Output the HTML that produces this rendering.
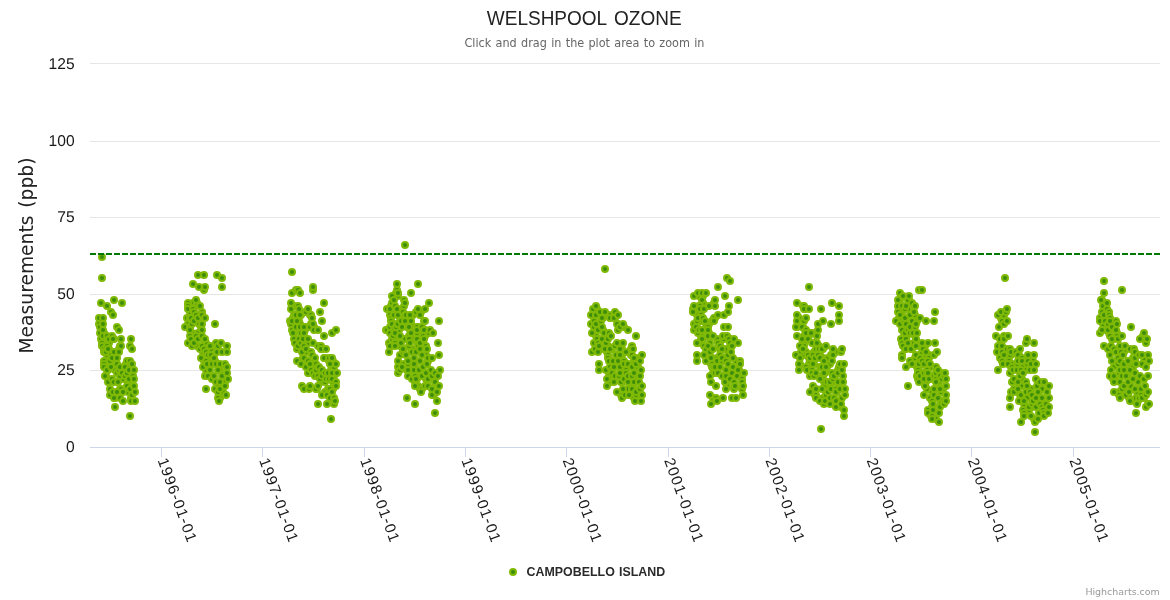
<!DOCTYPE html>
<html lang="en"><head><meta charset="utf-8"><title>Welshpool Ozone</title>
<style>
html,body{margin:0;padding:0;background:#fff;}
body{width:1170px;height:600px;overflow:hidden;}
svg{display:block;font-family:"DejaVu Sans", "Liberation Sans", sans-serif;}
.g line{stroke:#e6e6e6;stroke-width:1;shape-rendering:crispEdges;}
.ax line{stroke:#ccd6eb;stroke-width:1;shape-rendering:crispEdges;}
.yl text{font-family:'Liberation Sans', 'DejaVu Sans', sans-serif;font-size:15.6px;fill:#1a1a1a;text-anchor:end;text-rendering:geometricPrecision;}
.xl text{font-family:'Liberation Sans', 'DejaVu Sans', sans-serif;font-size:15.2px;fill:#1a1a1a;}
.p circle{fill:#3c8d0b;stroke:#80b906;stroke-width:2;}
</style></head><body>
<svg width="1170" height="600" viewBox="0 0 1170 600">
<rect x="0" y="0" width="1170" height="600" fill="#ffffff"/>
<g class="g">
<line x1="90" x2="1160" y1="63.5" y2="63.5"/>
<line x1="90" x2="1160" y1="141.5" y2="141.5"/>
<line x1="90" x2="1160" y1="217.5" y2="217.5"/>
<line x1="90" x2="1160" y1="294.5" y2="294.5"/>
<line x1="90" x2="1160" y1="370.5" y2="370.5"/>
</g>
<g class="ax">
<line x1="90" x2="1160" y1="447.5" y2="447.5"/>
<line x1="161.5" x2="161.5" y1="447" y2="457"/>
<line x1="262.5" x2="262.5" y1="447" y2="457"/>
<line x1="364.5" x2="364.5" y1="447" y2="457"/>
<line x1="465.5" x2="465.5" y1="447" y2="457"/>
<line x1="566.5" x2="566.5" y1="447" y2="457"/>
<line x1="668.5" x2="668.5" y1="447" y2="457"/>
<line x1="769.5" x2="769.5" y1="447" y2="457"/>
<line x1="870.5" x2="870.5" y1="447" y2="457"/>
<line x1="971.5" x2="971.5" y1="447" y2="457"/>
<line x1="1073.5" x2="1073.5" y1="447" y2="457"/>
</g>
<g class="p">
<circle cx="104" cy="333" r="3"/>
<circle cx="106" cy="376" r="3"/>
<circle cx="107" cy="355" r="3"/>
<circle cx="108" cy="370" r="3"/>
<circle cx="109" cy="343" r="3"/>
<circle cx="109" cy="349" r="3"/>
<circle cx="114" cy="339" r="3"/>
<circle cx="115" cy="370" r="3"/>
<circle cx="115" cy="398" r="3"/>
<circle cx="117" cy="373" r="3"/>
<circle cx="119" cy="349" r="3"/>
<circle cx="120" cy="346" r="3"/>
<circle cx="120" cy="389" r="3"/>
<circle cx="121" cy="389" r="3"/>
<circle cx="123" cy="379" r="3"/>
<circle cx="126" cy="364" r="3"/>
<circle cx="128" cy="382" r="3"/>
<circle cx="128" cy="392" r="3"/>
<circle cx="131" cy="398" r="3"/>
<circle cx="188" cy="324" r="3"/>
<circle cx="190" cy="312" r="3"/>
<circle cx="192" cy="333" r="3"/>
<circle cx="193" cy="303" r="3"/>
<circle cx="196" cy="306" r="3"/>
<circle cx="197" cy="303" r="3"/>
<circle cx="197" cy="346" r="3"/>
<circle cx="198" cy="333" r="3"/>
<circle cx="199" cy="324" r="3"/>
<circle cx="201" cy="327" r="3"/>
<circle cx="203" cy="352" r="3"/>
<circle cx="204" cy="361" r="3"/>
<circle cx="205" cy="343" r="3"/>
<circle cx="206" cy="343" r="3"/>
<circle cx="206" cy="370" r="3"/>
<circle cx="211" cy="349" r="3"/>
<circle cx="215" cy="361" r="3"/>
<circle cx="220" cy="370" r="3"/>
<circle cx="220" cy="398" r="3"/>
<circle cx="223" cy="392" r="3"/>
<circle cx="225" cy="382" r="3"/>
<circle cx="293" cy="318" r="3"/>
<circle cx="294" cy="306" r="3"/>
<circle cx="294" cy="333" r="3"/>
<circle cx="299" cy="321" r="3"/>
<circle cx="300" cy="324" r="3"/>
<circle cx="301" cy="315" r="3"/>
<circle cx="301" cy="333" r="3"/>
<circle cx="302" cy="312" r="3"/>
<circle cx="303" cy="358" r="3"/>
<circle cx="305" cy="330" r="3"/>
<circle cx="306" cy="327" r="3"/>
<circle cx="306" cy="352" r="3"/>
<circle cx="308" cy="343" r="3"/>
<circle cx="309" cy="373" r="3"/>
<circle cx="310" cy="315" r="3"/>
<circle cx="311" cy="324" r="3"/>
<circle cx="314" cy="327" r="3"/>
<circle cx="317" cy="389" r="3"/>
<circle cx="321" cy="382" r="3"/>
<circle cx="322" cy="349" r="3"/>
<circle cx="325" cy="358" r="3"/>
<circle cx="325" cy="382" r="3"/>
<circle cx="325" cy="392" r="3"/>
<circle cx="328" cy="389" r="3"/>
<circle cx="329" cy="361" r="3"/>
<circle cx="331" cy="370" r="3"/>
<circle cx="332" cy="367" r="3"/>
<circle cx="333" cy="361" r="3"/>
<circle cx="333" cy="382" r="3"/>
<circle cx="333" cy="389" r="3"/>
<circle cx="334" cy="367" r="3"/>
<circle cx="334" cy="376" r="3"/>
<circle cx="391" cy="306" r="3"/>
<circle cx="391" cy="346" r="3"/>
<circle cx="396" cy="293" r="3"/>
<circle cx="397" cy="336" r="3"/>
<circle cx="398" cy="296" r="3"/>
<circle cx="398" cy="309" r="3"/>
<circle cx="399" cy="330" r="3"/>
<circle cx="400" cy="318" r="3"/>
<circle cx="400" cy="346" r="3"/>
<circle cx="404" cy="364" r="3"/>
<circle cx="405" cy="339" r="3"/>
<circle cx="407" cy="327" r="3"/>
<circle cx="407" cy="370" r="3"/>
<circle cx="408" cy="364" r="3"/>
<circle cx="409" cy="336" r="3"/>
<circle cx="410" cy="330" r="3"/>
<circle cx="410" cy="370" r="3"/>
<circle cx="411" cy="324" r="3"/>
<circle cx="411" cy="349" r="3"/>
<circle cx="412" cy="349" r="3"/>
<circle cx="413" cy="315" r="3"/>
<circle cx="413" cy="339" r="3"/>
<circle cx="414" cy="358" r="3"/>
<circle cx="415" cy="364" r="3"/>
<circle cx="415" cy="382" r="3"/>
<circle cx="417" cy="333" r="3"/>
<circle cx="417" cy="379" r="3"/>
<circle cx="418" cy="327" r="3"/>
<circle cx="418" cy="343" r="3"/>
<circle cx="418" cy="346" r="3"/>
<circle cx="418" cy="386" r="3"/>
<circle cx="420" cy="389" r="3"/>
<circle cx="421" cy="312" r="3"/>
<circle cx="422" cy="389" r="3"/>
<circle cx="424" cy="321" r="3"/>
<circle cx="425" cy="330" r="3"/>
<circle cx="425" cy="336" r="3"/>
<circle cx="426" cy="355" r="3"/>
<circle cx="426" cy="379" r="3"/>
<circle cx="428" cy="361" r="3"/>
<circle cx="429" cy="379" r="3"/>
<circle cx="434" cy="395" r="3"/>
<circle cx="596" cy="336" r="3"/>
<circle cx="597" cy="309" r="3"/>
<circle cx="601" cy="349" r="3"/>
<circle cx="603" cy="318" r="3"/>
<circle cx="603" cy="330" r="3"/>
<circle cx="607" cy="352" r="3"/>
<circle cx="608" cy="346" r="3"/>
<circle cx="609" cy="315" r="3"/>
<circle cx="609" cy="376" r="3"/>
<circle cx="610" cy="382" r="3"/>
<circle cx="612" cy="349" r="3"/>
<circle cx="615" cy="318" r="3"/>
<circle cx="615" cy="367" r="3"/>
<circle cx="618" cy="324" r="3"/>
<circle cx="621" cy="395" r="3"/>
<circle cx="622" cy="349" r="3"/>
<circle cx="622" cy="355" r="3"/>
<circle cx="622" cy="382" r="3"/>
<circle cx="624" cy="327" r="3"/>
<circle cx="626" cy="370" r="3"/>
<circle cx="628" cy="389" r="3"/>
<circle cx="631" cy="349" r="3"/>
<circle cx="631" cy="355" r="3"/>
<circle cx="633" cy="386" r="3"/>
<circle cx="634" cy="361" r="3"/>
<circle cx="634" cy="376" r="3"/>
<circle cx="634" cy="398" r="3"/>
<circle cx="636" cy="358" r="3"/>
<circle cx="636" cy="395" r="3"/>
<circle cx="638" cy="367" r="3"/>
<circle cx="697" cy="315" r="3"/>
<circle cx="697" cy="324" r="3"/>
<circle cx="698" cy="343" r="3"/>
<circle cx="699" cy="296" r="3"/>
<circle cx="699" cy="306" r="3"/>
<circle cx="701" cy="312" r="3"/>
<circle cx="701" cy="321" r="3"/>
<circle cx="701" cy="333" r="3"/>
<circle cx="701" cy="339" r="3"/>
<circle cx="703" cy="296" r="3"/>
<circle cx="703" cy="303" r="3"/>
<circle cx="703" cy="339" r="3"/>
<circle cx="706" cy="324" r="3"/>
<circle cx="709" cy="324" r="3"/>
<circle cx="709" cy="333" r="3"/>
<circle cx="710" cy="343" r="3"/>
<circle cx="711" cy="364" r="3"/>
<circle cx="712" cy="321" r="3"/>
<circle cx="712" cy="358" r="3"/>
<circle cx="713" cy="373" r="3"/>
<circle cx="713" cy="398" r="3"/>
<circle cx="714" cy="303" r="3"/>
<circle cx="715" cy="318" r="3"/>
<circle cx="717" cy="339" r="3"/>
<circle cx="717" cy="358" r="3"/>
<circle cx="717" cy="361" r="3"/>
<circle cx="720" cy="343" r="3"/>
<circle cx="720" cy="349" r="3"/>
<circle cx="722" cy="361" r="3"/>
<circle cx="724" cy="339" r="3"/>
<circle cx="725" cy="349" r="3"/>
<circle cx="727" cy="386" r="3"/>
<circle cx="730" cy="339" r="3"/>
<circle cx="736" cy="361" r="3"/>
<circle cx="739" cy="370" r="3"/>
<circle cx="797" cy="327" r="3"/>
<circle cx="799" cy="318" r="3"/>
<circle cx="800" cy="364" r="3"/>
<circle cx="801" cy="352" r="3"/>
<circle cx="803" cy="306" r="3"/>
<circle cx="803" cy="327" r="3"/>
<circle cx="804" cy="336" r="3"/>
<circle cx="804" cy="343" r="3"/>
<circle cx="804" cy="346" r="3"/>
<circle cx="804" cy="355" r="3"/>
<circle cx="805" cy="309" r="3"/>
<circle cx="805" cy="330" r="3"/>
<circle cx="806" cy="352" r="3"/>
<circle cx="809" cy="336" r="3"/>
<circle cx="809" cy="358" r="3"/>
<circle cx="809" cy="364" r="3"/>
<circle cx="810" cy="361" r="3"/>
<circle cx="812" cy="333" r="3"/>
<circle cx="814" cy="352" r="3"/>
<circle cx="814" cy="364" r="3"/>
<circle cx="815" cy="343" r="3"/>
<circle cx="815" cy="395" r="3"/>
<circle cx="816" cy="349" r="3"/>
<circle cx="816" cy="358" r="3"/>
<circle cx="819" cy="346" r="3"/>
<circle cx="820" cy="355" r="3"/>
<circle cx="823" cy="349" r="3"/>
<circle cx="823" cy="358" r="3"/>
<circle cx="823" cy="376" r="3"/>
<circle cx="823" cy="398" r="3"/>
<circle cx="824" cy="382" r="3"/>
<circle cx="825" cy="373" r="3"/>
<circle cx="825" cy="386" r="3"/>
<circle cx="827" cy="367" r="3"/>
<circle cx="828" cy="358" r="3"/>
<circle cx="830" cy="364" r="3"/>
<circle cx="830" cy="386" r="3"/>
<circle cx="831" cy="355" r="3"/>
<circle cx="832" cy="382" r="3"/>
<circle cx="833" cy="376" r="3"/>
<circle cx="835" cy="376" r="3"/>
<circle cx="836" cy="352" r="3"/>
<circle cx="837" cy="392" r="3"/>
<circle cx="838" cy="370" r="3"/>
<circle cx="839" cy="367" r="3"/>
<circle cx="841" cy="407" r="3"/>
<circle cx="899" cy="318" r="3"/>
<circle cx="900" cy="300" r="3"/>
<circle cx="902" cy="312" r="3"/>
<circle cx="904" cy="333" r="3"/>
<circle cx="905" cy="349" r="3"/>
<circle cx="907" cy="336" r="3"/>
<circle cx="908" cy="309" r="3"/>
<circle cx="909" cy="300" r="3"/>
<circle cx="912" cy="349" r="3"/>
<circle cx="914" cy="343" r="3"/>
<circle cx="915" cy="315" r="3"/>
<circle cx="915" cy="336" r="3"/>
<circle cx="915" cy="358" r="3"/>
<circle cx="917" cy="321" r="3"/>
<circle cx="917" cy="367" r="3"/>
<circle cx="919" cy="367" r="3"/>
<circle cx="920" cy="346" r="3"/>
<circle cx="922" cy="352" r="3"/>
<circle cx="925" cy="346" r="3"/>
<circle cx="926" cy="355" r="3"/>
<circle cx="926" cy="382" r="3"/>
<circle cx="927" cy="389" r="3"/>
<circle cx="929" cy="355" r="3"/>
<circle cx="929" cy="358" r="3"/>
<circle cx="930" cy="379" r="3"/>
<circle cx="931" cy="367" r="3"/>
<circle cx="931" cy="416" r="3"/>
<circle cx="932" cy="407" r="3"/>
<circle cx="936" cy="419" r="3"/>
<circle cx="939" cy="382" r="3"/>
<circle cx="941" cy="373" r="3"/>
<circle cx="941" cy="392" r="3"/>
<circle cx="941" cy="401" r="3"/>
<circle cx="941" cy="404" r="3"/>
<circle cx="943" cy="389" r="3"/>
<circle cx="1001" cy="318" r="3"/>
<circle cx="1004" cy="315" r="3"/>
<circle cx="1009" cy="361" r="3"/>
<circle cx="1011" cy="355" r="3"/>
<circle cx="1011" cy="367" r="3"/>
<circle cx="1012" cy="364" r="3"/>
<circle cx="1014" cy="389" r="3"/>
<circle cx="1017" cy="364" r="3"/>
<circle cx="1019" cy="355" r="3"/>
<circle cx="1020" cy="395" r="3"/>
<circle cx="1021" cy="386" r="3"/>
<circle cx="1022" cy="379" r="3"/>
<circle cx="1023" cy="367" r="3"/>
<circle cx="1024" cy="404" r="3"/>
<circle cx="1026" cy="370" r="3"/>
<circle cx="1027" cy="398" r="3"/>
<circle cx="1029" cy="410" r="3"/>
<circle cx="1031" cy="389" r="3"/>
<circle cx="1032" cy="407" r="3"/>
<circle cx="1033" cy="361" r="3"/>
<circle cx="1034" cy="419" r="3"/>
<circle cx="1039" cy="392" r="3"/>
<circle cx="1042" cy="389" r="3"/>
<circle cx="1102" cy="300" r="3"/>
<circle cx="1103" cy="324" r="3"/>
<circle cx="1103" cy="330" r="3"/>
<circle cx="1109" cy="333" r="3"/>
<circle cx="1113" cy="379" r="3"/>
<circle cx="1114" cy="339" r="3"/>
<circle cx="1114" cy="367" r="3"/>
<circle cx="1115" cy="376" r="3"/>
<circle cx="1117" cy="333" r="3"/>
<circle cx="1119" cy="392" r="3"/>
<circle cx="1119" cy="395" r="3"/>
<circle cx="1124" cy="352" r="3"/>
<circle cx="1128" cy="373" r="3"/>
<circle cx="1129" cy="398" r="3"/>
<circle cx="1131" cy="367" r="3"/>
<circle cx="1131" cy="386" r="3"/>
<circle cx="1131" cy="401" r="3"/>
<circle cx="1133" cy="358" r="3"/>
<circle cx="1133" cy="367" r="3"/>
<circle cx="1134" cy="352" r="3"/>
<circle cx="1135" cy="361" r="3"/>
<circle cx="1137" cy="392" r="3"/>
<circle cx="1138" cy="382" r="3"/>
<circle cx="1138" cy="401" r="3"/>
<circle cx="1141" cy="389" r="3"/>
<circle cx="1143" cy="336" r="3"/>
<circle cx="1144" cy="358" r="3"/>
<circle cx="1144" cy="398" r="3"/>
<circle cx="1148" cy="404" r="3"/>
<circle cx="99" cy="318" r="3"/>
<circle cx="99" cy="324" r="3"/>
<circle cx="100" cy="327" r="3"/>
<circle cx="100" cy="333" r="3"/>
<circle cx="101" cy="303" r="3"/>
<circle cx="101" cy="339" r="3"/>
<circle cx="102" cy="257" r="3"/>
<circle cx="102" cy="278" r="3"/>
<circle cx="102" cy="343" r="3"/>
<circle cx="102" cy="346" r="3"/>
<circle cx="103" cy="318" r="3"/>
<circle cx="103" cy="324" r="3"/>
<circle cx="103" cy="330" r="3"/>
<circle cx="103" cy="336" r="3"/>
<circle cx="104" cy="349" r="3"/>
<circle cx="104" cy="352" r="3"/>
<circle cx="104" cy="361" r="3"/>
<circle cx="104" cy="364" r="3"/>
<circle cx="104" cy="367" r="3"/>
<circle cx="105" cy="376" r="3"/>
<circle cx="106" cy="352" r="3"/>
<circle cx="107" cy="306" r="3"/>
<circle cx="107" cy="336" r="3"/>
<circle cx="107" cy="346" r="3"/>
<circle cx="107" cy="370" r="3"/>
<circle cx="108" cy="349" r="3"/>
<circle cx="108" cy="382" r="3"/>
<circle cx="109" cy="339" r="3"/>
<circle cx="110" cy="361" r="3"/>
<circle cx="110" cy="389" r="3"/>
<circle cx="110" cy="395" r="3"/>
<circle cx="111" cy="312" r="3"/>
<circle cx="111" cy="355" r="3"/>
<circle cx="111" cy="367" r="3"/>
<circle cx="112" cy="336" r="3"/>
<circle cx="112" cy="358" r="3"/>
<circle cx="112" cy="379" r="3"/>
<circle cx="113" cy="315" r="3"/>
<circle cx="113" cy="339" r="3"/>
<circle cx="113" cy="392" r="3"/>
<circle cx="114" cy="300" r="3"/>
<circle cx="114" cy="352" r="3"/>
<circle cx="114" cy="382" r="3"/>
<circle cx="114" cy="398" r="3"/>
<circle cx="115" cy="407" r="3"/>
<circle cx="117" cy="327" r="3"/>
<circle cx="117" cy="358" r="3"/>
<circle cx="117" cy="364" r="3"/>
<circle cx="117" cy="392" r="3"/>
<circle cx="118" cy="382" r="3"/>
<circle cx="119" cy="330" r="3"/>
<circle cx="119" cy="352" r="3"/>
<circle cx="119" cy="370" r="3"/>
<circle cx="120" cy="367" r="3"/>
<circle cx="120" cy="376" r="3"/>
<circle cx="120" cy="398" r="3"/>
<circle cx="121" cy="339" r="3"/>
<circle cx="121" cy="346" r="3"/>
<circle cx="122" cy="303" r="3"/>
<circle cx="122" cy="373" r="3"/>
<circle cx="123" cy="392" r="3"/>
<circle cx="123" cy="401" r="3"/>
<circle cx="125" cy="367" r="3"/>
<circle cx="125" cy="376" r="3"/>
<circle cx="127" cy="361" r="3"/>
<circle cx="127" cy="373" r="3"/>
<circle cx="127" cy="386" r="3"/>
<circle cx="129" cy="370" r="3"/>
<circle cx="129" cy="379" r="3"/>
<circle cx="130" cy="346" r="3"/>
<circle cx="130" cy="361" r="3"/>
<circle cx="130" cy="389" r="3"/>
<circle cx="130" cy="416" r="3"/>
<circle cx="131" cy="339" r="3"/>
<circle cx="131" cy="401" r="3"/>
<circle cx="132" cy="349" r="3"/>
<circle cx="132" cy="364" r="3"/>
<circle cx="132" cy="395" r="3"/>
<circle cx="133" cy="376" r="3"/>
<circle cx="134" cy="370" r="3"/>
<circle cx="134" cy="379" r="3"/>
<circle cx="134" cy="386" r="3"/>
<circle cx="135" cy="392" r="3"/>
<circle cx="135" cy="401" r="3"/>
<circle cx="185" cy="327" r="3"/>
<circle cx="187" cy="318" r="3"/>
<circle cx="188" cy="303" r="3"/>
<circle cx="188" cy="306" r="3"/>
<circle cx="188" cy="309" r="3"/>
<circle cx="188" cy="343" r="3"/>
<circle cx="190" cy="318" r="3"/>
<circle cx="190" cy="327" r="3"/>
<circle cx="190" cy="330" r="3"/>
<circle cx="190" cy="336" r="3"/>
<circle cx="191" cy="318" r="3"/>
<circle cx="191" cy="339" r="3"/>
<circle cx="192" cy="324" r="3"/>
<circle cx="192" cy="346" r="3"/>
<circle cx="193" cy="284" r="3"/>
<circle cx="193" cy="309" r="3"/>
<circle cx="194" cy="312" r="3"/>
<circle cx="194" cy="321" r="3"/>
<circle cx="194" cy="343" r="3"/>
<circle cx="196" cy="300" r="3"/>
<circle cx="196" cy="315" r="3"/>
<circle cx="196" cy="336" r="3"/>
<circle cx="198" cy="275" r="3"/>
<circle cx="198" cy="318" r="3"/>
<circle cx="198" cy="339" r="3"/>
<circle cx="199" cy="287" r="3"/>
<circle cx="200" cy="306" r="3"/>
<circle cx="200" cy="349" r="3"/>
<circle cx="201" cy="358" r="3"/>
<circle cx="202" cy="312" r="3"/>
<circle cx="202" cy="315" r="3"/>
<circle cx="202" cy="324" r="3"/>
<circle cx="202" cy="330" r="3"/>
<circle cx="202" cy="336" r="3"/>
<circle cx="202" cy="346" r="3"/>
<circle cx="203" cy="367" r="3"/>
<circle cx="204" cy="275" r="3"/>
<circle cx="204" cy="290" r="3"/>
<circle cx="204" cy="349" r="3"/>
<circle cx="205" cy="287" r="3"/>
<circle cx="205" cy="318" r="3"/>
<circle cx="205" cy="339" r="3"/>
<circle cx="205" cy="376" r="3"/>
<circle cx="206" cy="352" r="3"/>
<circle cx="206" cy="361" r="3"/>
<circle cx="206" cy="389" r="3"/>
<circle cx="207" cy="364" r="3"/>
<circle cx="208" cy="355" r="3"/>
<circle cx="208" cy="376" r="3"/>
<circle cx="210" cy="346" r="3"/>
<circle cx="210" cy="370" r="3"/>
<circle cx="211" cy="355" r="3"/>
<circle cx="212" cy="361" r="3"/>
<circle cx="212" cy="364" r="3"/>
<circle cx="212" cy="379" r="3"/>
<circle cx="214" cy="358" r="3"/>
<circle cx="214" cy="376" r="3"/>
<circle cx="215" cy="324" r="3"/>
<circle cx="215" cy="389" r="3"/>
<circle cx="216" cy="343" r="3"/>
<circle cx="216" cy="364" r="3"/>
<circle cx="216" cy="382" r="3"/>
<circle cx="217" cy="275" r="3"/>
<circle cx="217" cy="352" r="3"/>
<circle cx="218" cy="346" r="3"/>
<circle cx="218" cy="370" r="3"/>
<circle cx="218" cy="392" r="3"/>
<circle cx="218" cy="398" r="3"/>
<circle cx="219" cy="386" r="3"/>
<circle cx="219" cy="401" r="3"/>
<circle cx="220" cy="364" r="3"/>
<circle cx="220" cy="382" r="3"/>
<circle cx="220" cy="389" r="3"/>
<circle cx="221" cy="343" r="3"/>
<circle cx="222" cy="278" r="3"/>
<circle cx="222" cy="287" r="3"/>
<circle cx="222" cy="352" r="3"/>
<circle cx="222" cy="376" r="3"/>
<circle cx="225" cy="364" r="3"/>
<circle cx="225" cy="386" r="3"/>
<circle cx="226" cy="395" r="3"/>
<circle cx="227" cy="346" r="3"/>
<circle cx="227" cy="352" r="3"/>
<circle cx="227" cy="367" r="3"/>
<circle cx="227" cy="373" r="3"/>
<circle cx="228" cy="379" r="3"/>
<circle cx="290" cy="321" r="3"/>
<circle cx="291" cy="303" r="3"/>
<circle cx="291" cy="309" r="3"/>
<circle cx="291" cy="324" r="3"/>
<circle cx="292" cy="272" r="3"/>
<circle cx="292" cy="293" r="3"/>
<circle cx="292" cy="321" r="3"/>
<circle cx="292" cy="330" r="3"/>
<circle cx="293" cy="333" r="3"/>
<circle cx="294" cy="315" r="3"/>
<circle cx="294" cy="339" r="3"/>
<circle cx="295" cy="343" r="3"/>
<circle cx="296" cy="290" r="3"/>
<circle cx="296" cy="315" r="3"/>
<circle cx="296" cy="327" r="3"/>
<circle cx="297" cy="321" r="3"/>
<circle cx="297" cy="349" r="3"/>
<circle cx="297" cy="361" r="3"/>
<circle cx="298" cy="290" r="3"/>
<circle cx="298" cy="306" r="3"/>
<circle cx="298" cy="346" r="3"/>
<circle cx="299" cy="309" r="3"/>
<circle cx="299" cy="339" r="3"/>
<circle cx="300" cy="293" r="3"/>
<circle cx="300" cy="315" r="3"/>
<circle cx="300" cy="327" r="3"/>
<circle cx="301" cy="364" r="3"/>
<circle cx="301" cy="343" r="3"/>
<circle cx="302" cy="352" r="3"/>
<circle cx="302" cy="386" r="3"/>
<circle cx="303" cy="339" r="3"/>
<circle cx="304" cy="327" r="3"/>
<circle cx="304" cy="333" r="3"/>
<circle cx="304" cy="358" r="3"/>
<circle cx="304" cy="389" r="3"/>
<circle cx="304" cy="346" r="3"/>
<circle cx="306" cy="312" r="3"/>
<circle cx="306" cy="349" r="3"/>
<circle cx="306" cy="367" r="3"/>
<circle cx="308" cy="309" r="3"/>
<circle cx="308" cy="339" r="3"/>
<circle cx="308" cy="361" r="3"/>
<circle cx="308" cy="373" r="3"/>
<circle cx="309" cy="389" r="3"/>
<circle cx="310" cy="327" r="3"/>
<circle cx="310" cy="364" r="3"/>
<circle cx="310" cy="386" r="3"/>
<circle cx="311" cy="315" r="3"/>
<circle cx="311" cy="352" r="3"/>
<circle cx="311" cy="370" r="3"/>
<circle cx="312" cy="318" r="3"/>
<circle cx="312" cy="355" r="3"/>
<circle cx="313" cy="290" r="3"/>
<circle cx="313" cy="287" r="3"/>
<circle cx="313" cy="324" r="3"/>
<circle cx="313" cy="343" r="3"/>
<circle cx="313" cy="373" r="3"/>
<circle cx="314" cy="330" r="3"/>
<circle cx="315" cy="358" r="3"/>
<circle cx="315" cy="376" r="3"/>
<circle cx="316" cy="364" r="3"/>
<circle cx="316" cy="370" r="3"/>
<circle cx="316" cy="389" r="3"/>
<circle cx="318" cy="330" r="3"/>
<circle cx="318" cy="346" r="3"/>
<circle cx="318" cy="367" r="3"/>
<circle cx="318" cy="376" r="3"/>
<circle cx="318" cy="386" r="3"/>
<circle cx="318" cy="404" r="3"/>
<circle cx="319" cy="367" r="3"/>
<circle cx="320" cy="312" r="3"/>
<circle cx="320" cy="379" r="3"/>
<circle cx="321" cy="346" r="3"/>
<circle cx="321" cy="349" r="3"/>
<circle cx="322" cy="321" r="3"/>
<circle cx="322" cy="370" r="3"/>
<circle cx="322" cy="376" r="3"/>
<circle cx="322" cy="395" r="3"/>
<circle cx="324" cy="303" r="3"/>
<circle cx="324" cy="336" r="3"/>
<circle cx="324" cy="358" r="3"/>
<circle cx="325" cy="373" r="3"/>
<circle cx="326" cy="349" r="3"/>
<circle cx="326" cy="379" r="3"/>
<circle cx="327" cy="395" r="3"/>
<circle cx="327" cy="404" r="3"/>
<circle cx="328" cy="373" r="3"/>
<circle cx="329" cy="358" r="3"/>
<circle cx="329" cy="379" r="3"/>
<circle cx="330" cy="364" r="3"/>
<circle cx="330" cy="389" r="3"/>
<circle cx="330" cy="398" r="3"/>
<circle cx="331" cy="419" r="3"/>
<circle cx="332" cy="333" r="3"/>
<circle cx="332" cy="358" r="3"/>
<circle cx="332" cy="373" r="3"/>
<circle cx="332" cy="379" r="3"/>
<circle cx="332" cy="392" r="3"/>
<circle cx="334" cy="398" r="3"/>
<circle cx="334" cy="404" r="3"/>
<circle cx="335" cy="401" r="3"/>
<circle cx="336" cy="330" r="3"/>
<circle cx="336" cy="364" r="3"/>
<circle cx="336" cy="382" r="3"/>
<circle cx="336" cy="386" r="3"/>
<circle cx="337" cy="373" r="3"/>
<circle cx="386" cy="330" r="3"/>
<circle cx="387" cy="309" r="3"/>
<circle cx="387" cy="330" r="3"/>
<circle cx="389" cy="343" r="3"/>
<circle cx="389" cy="352" r="3"/>
<circle cx="390" cy="309" r="3"/>
<circle cx="390" cy="315" r="3"/>
<circle cx="390" cy="333" r="3"/>
<circle cx="390" cy="346" r="3"/>
<circle cx="390" cy="327" r="3"/>
<circle cx="391" cy="318" r="3"/>
<circle cx="391" cy="321" r="3"/>
<circle cx="392" cy="296" r="3"/>
<circle cx="392" cy="303" r="3"/>
<circle cx="392" cy="324" r="3"/>
<circle cx="392" cy="339" r="3"/>
<circle cx="393" cy="336" r="3"/>
<circle cx="394" cy="300" r="3"/>
<circle cx="394" cy="315" r="3"/>
<circle cx="394" cy="330" r="3"/>
<circle cx="395" cy="306" r="3"/>
<circle cx="395" cy="343" r="3"/>
<circle cx="395" cy="333" r="3"/>
<circle cx="395" cy="346" r="3"/>
<circle cx="396" cy="327" r="3"/>
<circle cx="397" cy="284" r="3"/>
<circle cx="397" cy="290" r="3"/>
<circle cx="397" cy="309" r="3"/>
<circle cx="397" cy="324" r="3"/>
<circle cx="398" cy="293" r="3"/>
<circle cx="398" cy="315" r="3"/>
<circle cx="398" cy="324" r="3"/>
<circle cx="398" cy="361" r="3"/>
<circle cx="398" cy="367" r="3"/>
<circle cx="398" cy="373" r="3"/>
<circle cx="400" cy="336" r="3"/>
<circle cx="400" cy="355" r="3"/>
<circle cx="400" cy="370" r="3"/>
<circle cx="401" cy="343" r="3"/>
<circle cx="401" cy="321" r="3"/>
<circle cx="402" cy="327" r="3"/>
<circle cx="402" cy="367" r="3"/>
<circle cx="403" cy="312" r="3"/>
<circle cx="403" cy="352" r="3"/>
<circle cx="403" cy="349" r="3"/>
<circle cx="404" cy="300" r="3"/>
<circle cx="404" cy="306" r="3"/>
<circle cx="405" cy="245" r="3"/>
<circle cx="405" cy="303" r="3"/>
<circle cx="405" cy="321" r="3"/>
<circle cx="405" cy="315" r="3"/>
<circle cx="406" cy="315" r="3"/>
<circle cx="406" cy="355" r="3"/>
<circle cx="407" cy="398" r="3"/>
<circle cx="408" cy="361" r="3"/>
<circle cx="408" cy="370" r="3"/>
<circle cx="408" cy="376" r="3"/>
<circle cx="409" cy="327" r="3"/>
<circle cx="409" cy="339" r="3"/>
<circle cx="409" cy="346" r="3"/>
<circle cx="410" cy="315" r="3"/>
<circle cx="410" cy="343" r="3"/>
<circle cx="411" cy="293" r="3"/>
<circle cx="411" cy="321" r="3"/>
<circle cx="411" cy="333" r="3"/>
<circle cx="412" cy="352" r="3"/>
<circle cx="412" cy="379" r="3"/>
<circle cx="414" cy="364" r="3"/>
<circle cx="414" cy="370" r="3"/>
<circle cx="415" cy="376" r="3"/>
<circle cx="415" cy="386" r="3"/>
<circle cx="415" cy="404" r="3"/>
<circle cx="416" cy="312" r="3"/>
<circle cx="416" cy="352" r="3"/>
<circle cx="416" cy="379" r="3"/>
<circle cx="417" cy="327" r="3"/>
<circle cx="417" cy="330" r="3"/>
<circle cx="417" cy="339" r="3"/>
<circle cx="418" cy="284" r="3"/>
<circle cx="418" cy="309" r="3"/>
<circle cx="419" cy="370" r="3"/>
<circle cx="420" cy="315" r="3"/>
<circle cx="420" cy="343" r="3"/>
<circle cx="420" cy="349" r="3"/>
<circle cx="420" cy="361" r="3"/>
<circle cx="421" cy="392" r="3"/>
<circle cx="422" cy="327" r="3"/>
<circle cx="422" cy="355" r="3"/>
<circle cx="422" cy="376" r="3"/>
<circle cx="423" cy="336" r="3"/>
<circle cx="423" cy="367" r="3"/>
<circle cx="424" cy="330" r="3"/>
<circle cx="424" cy="339" r="3"/>
<circle cx="425" cy="309" r="3"/>
<circle cx="425" cy="321" r="3"/>
<circle cx="425" cy="386" r="3"/>
<circle cx="426" cy="346" r="3"/>
<circle cx="426" cy="373" r="3"/>
<circle cx="427" cy="349" r="3"/>
<circle cx="427" cy="364" r="3"/>
<circle cx="428" cy="358" r="3"/>
<circle cx="428" cy="379" r="3"/>
<circle cx="428" cy="386" r="3"/>
<circle cx="429" cy="303" r="3"/>
<circle cx="429" cy="333" r="3"/>
<circle cx="430" cy="330" r="3"/>
<circle cx="431" cy="370" r="3"/>
<circle cx="432" cy="358" r="3"/>
<circle cx="432" cy="376" r="3"/>
<circle cx="432" cy="389" r="3"/>
<circle cx="432" cy="395" r="3"/>
<circle cx="433" cy="333" r="3"/>
<circle cx="435" cy="373" r="3"/>
<circle cx="435" cy="382" r="3"/>
<circle cx="435" cy="413" r="3"/>
<circle cx="437" cy="392" r="3"/>
<circle cx="437" cy="401" r="3"/>
<circle cx="438" cy="343" r="3"/>
<circle cx="438" cy="376" r="3"/>
<circle cx="439" cy="321" r="3"/>
<circle cx="439" cy="355" r="3"/>
<circle cx="439" cy="386" r="3"/>
<circle cx="440" cy="370" r="3"/>
<circle cx="591" cy="315" r="3"/>
<circle cx="591" cy="324" r="3"/>
<circle cx="592" cy="333" r="3"/>
<circle cx="592" cy="352" r="3"/>
<circle cx="593" cy="309" r="3"/>
<circle cx="594" cy="321" r="3"/>
<circle cx="594" cy="327" r="3"/>
<circle cx="594" cy="343" r="3"/>
<circle cx="595" cy="349" r="3"/>
<circle cx="596" cy="306" r="3"/>
<circle cx="596" cy="315" r="3"/>
<circle cx="596" cy="324" r="3"/>
<circle cx="597" cy="339" r="3"/>
<circle cx="598" cy="330" r="3"/>
<circle cx="598" cy="343" r="3"/>
<circle cx="598" cy="352" r="3"/>
<circle cx="599" cy="346" r="3"/>
<circle cx="599" cy="364" r="3"/>
<circle cx="599" cy="370" r="3"/>
<circle cx="600" cy="312" r="3"/>
<circle cx="601" cy="321" r="3"/>
<circle cx="602" cy="318" r="3"/>
<circle cx="602" cy="327" r="3"/>
<circle cx="602" cy="339" r="3"/>
<circle cx="604" cy="333" r="3"/>
<circle cx="605" cy="269" r="3"/>
<circle cx="605" cy="312" r="3"/>
<circle cx="605" cy="349" r="3"/>
<circle cx="606" cy="343" r="3"/>
<circle cx="606" cy="370" r="3"/>
<circle cx="607" cy="379" r="3"/>
<circle cx="607" cy="386" r="3"/>
<circle cx="608" cy="339" r="3"/>
<circle cx="608" cy="355" r="3"/>
<circle cx="608" cy="358" r="3"/>
<circle cx="609" cy="333" r="3"/>
<circle cx="609" cy="361" r="3"/>
<circle cx="610" cy="318" r="3"/>
<circle cx="610" cy="349" r="3"/>
<circle cx="610" cy="367" r="3"/>
<circle cx="611" cy="336" r="3"/>
<circle cx="612" cy="370" r="3"/>
<circle cx="612" cy="373" r="3"/>
<circle cx="613" cy="361" r="3"/>
<circle cx="614" cy="318" r="3"/>
<circle cx="614" cy="367" r="3"/>
<circle cx="614" cy="382" r="3"/>
<circle cx="615" cy="312" r="3"/>
<circle cx="615" cy="346" r="3"/>
<circle cx="615" cy="376" r="3"/>
<circle cx="616" cy="355" r="3"/>
<circle cx="617" cy="324" r="3"/>
<circle cx="617" cy="343" r="3"/>
<circle cx="617" cy="392" r="3"/>
<circle cx="618" cy="315" r="3"/>
<circle cx="618" cy="330" r="3"/>
<circle cx="618" cy="361" r="3"/>
<circle cx="619" cy="376" r="3"/>
<circle cx="620" cy="327" r="3"/>
<circle cx="620" cy="349" r="3"/>
<circle cx="620" cy="355" r="3"/>
<circle cx="620" cy="367" r="3"/>
<circle cx="620" cy="373" r="3"/>
<circle cx="621" cy="382" r="3"/>
<circle cx="622" cy="398" r="3"/>
<circle cx="623" cy="324" r="3"/>
<circle cx="623" cy="343" r="3"/>
<circle cx="623" cy="389" r="3"/>
<circle cx="624" cy="361" r="3"/>
<circle cx="624" cy="364" r="3"/>
<circle cx="624" cy="379" r="3"/>
<circle cx="625" cy="395" r="3"/>
<circle cx="626" cy="352" r="3"/>
<circle cx="626" cy="373" r="3"/>
<circle cx="628" cy="330" r="3"/>
<circle cx="628" cy="364" r="3"/>
<circle cx="628" cy="376" r="3"/>
<circle cx="628" cy="382" r="3"/>
<circle cx="629" cy="395" r="3"/>
<circle cx="632" cy="346" r="3"/>
<circle cx="632" cy="355" r="3"/>
<circle cx="632" cy="367" r="3"/>
<circle cx="632" cy="376" r="3"/>
<circle cx="632" cy="389" r="3"/>
<circle cx="633" cy="349" r="3"/>
<circle cx="634" cy="358" r="3"/>
<circle cx="634" cy="373" r="3"/>
<circle cx="634" cy="382" r="3"/>
<circle cx="635" cy="401" r="3"/>
<circle cx="636" cy="336" r="3"/>
<circle cx="636" cy="364" r="3"/>
<circle cx="636" cy="392" r="3"/>
<circle cx="639" cy="382" r="3"/>
<circle cx="640" cy="361" r="3"/>
<circle cx="640" cy="376" r="3"/>
<circle cx="640" cy="389" r="3"/>
<circle cx="641" cy="370" r="3"/>
<circle cx="641" cy="401" r="3"/>
<circle cx="642" cy="355" r="3"/>
<circle cx="642" cy="386" r="3"/>
<circle cx="642" cy="395" r="3"/>
<circle cx="693" cy="309" r="3"/>
<circle cx="693" cy="312" r="3"/>
<circle cx="694" cy="296" r="3"/>
<circle cx="694" cy="306" r="3"/>
<circle cx="694" cy="324" r="3"/>
<circle cx="694" cy="330" r="3"/>
<circle cx="696" cy="327" r="3"/>
<circle cx="697" cy="321" r="3"/>
<circle cx="697" cy="343" r="3"/>
<circle cx="697" cy="355" r="3"/>
<circle cx="697" cy="361" r="3"/>
<circle cx="698" cy="293" r="3"/>
<circle cx="698" cy="318" r="3"/>
<circle cx="698" cy="333" r="3"/>
<circle cx="699" cy="330" r="3"/>
<circle cx="700" cy="306" r="3"/>
<circle cx="700" cy="309" r="3"/>
<circle cx="702" cy="293" r="3"/>
<circle cx="702" cy="300" r="3"/>
<circle cx="702" cy="330" r="3"/>
<circle cx="702" cy="339" r="3"/>
<circle cx="703" cy="318" r="3"/>
<circle cx="704" cy="309" r="3"/>
<circle cx="704" cy="346" r="3"/>
<circle cx="704" cy="355" r="3"/>
<circle cx="705" cy="321" r="3"/>
<circle cx="706" cy="293" r="3"/>
<circle cx="706" cy="349" r="3"/>
<circle cx="706" cy="361" r="3"/>
<circle cx="708" cy="327" r="3"/>
<circle cx="708" cy="330" r="3"/>
<circle cx="708" cy="336" r="3"/>
<circle cx="708" cy="346" r="3"/>
<circle cx="709" cy="306" r="3"/>
<circle cx="710" cy="352" r="3"/>
<circle cx="710" cy="376" r="3"/>
<circle cx="710" cy="395" r="3"/>
<circle cx="711" cy="358" r="3"/>
<circle cx="711" cy="382" r="3"/>
<circle cx="711" cy="404" r="3"/>
<circle cx="712" cy="364" r="3"/>
<circle cx="712" cy="367" r="3"/>
<circle cx="713" cy="336" r="3"/>
<circle cx="713" cy="349" r="3"/>
<circle cx="713" cy="367" r="3"/>
<circle cx="714" cy="318" r="3"/>
<circle cx="714" cy="321" r="3"/>
<circle cx="715" cy="300" r="3"/>
<circle cx="715" cy="306" r="3"/>
<circle cx="715" cy="367" r="3"/>
<circle cx="715" cy="373" r="3"/>
<circle cx="716" cy="386" r="3"/>
<circle cx="716" cy="398" r="3"/>
<circle cx="717" cy="401" r="3"/>
<circle cx="718" cy="287" r="3"/>
<circle cx="718" cy="315" r="3"/>
<circle cx="718" cy="343" r="3"/>
<circle cx="718" cy="373" r="3"/>
<circle cx="720" cy="346" r="3"/>
<circle cx="720" cy="355" r="3"/>
<circle cx="720" cy="367" r="3"/>
<circle cx="722" cy="349" r="3"/>
<circle cx="722" cy="358" r="3"/>
<circle cx="722" cy="376" r="3"/>
<circle cx="723" cy="336" r="3"/>
<circle cx="723" cy="398" r="3"/>
<circle cx="724" cy="315" r="3"/>
<circle cx="724" cy="327" r="3"/>
<circle cx="725" cy="296" r="3"/>
<circle cx="725" cy="382" r="3"/>
<circle cx="726" cy="361" r="3"/>
<circle cx="726" cy="370" r="3"/>
<circle cx="726" cy="376" r="3"/>
<circle cx="726" cy="389" r="3"/>
<circle cx="727" cy="278" r="3"/>
<circle cx="727" cy="336" r="3"/>
<circle cx="728" cy="312" r="3"/>
<circle cx="728" cy="327" r="3"/>
<circle cx="728" cy="355" r="3"/>
<circle cx="728" cy="364" r="3"/>
<circle cx="729" cy="306" r="3"/>
<circle cx="729" cy="339" r="3"/>
<circle cx="730" cy="281" r="3"/>
<circle cx="730" cy="343" r="3"/>
<circle cx="730" cy="379" r="3"/>
<circle cx="731" cy="352" r="3"/>
<circle cx="732" cy="346" r="3"/>
<circle cx="732" cy="373" r="3"/>
<circle cx="732" cy="398" r="3"/>
<circle cx="733" cy="358" r="3"/>
<circle cx="733" cy="367" r="3"/>
<circle cx="734" cy="339" r="3"/>
<circle cx="734" cy="382" r="3"/>
<circle cx="734" cy="389" r="3"/>
<circle cx="735" cy="386" r="3"/>
<circle cx="736" cy="398" r="3"/>
<circle cx="737" cy="376" r="3"/>
<circle cx="738" cy="300" r="3"/>
<circle cx="738" cy="343" r="3"/>
<circle cx="738" cy="370" r="3"/>
<circle cx="740" cy="361" r="3"/>
<circle cx="740" cy="364" r="3"/>
<circle cx="742" cy="379" r="3"/>
<circle cx="742" cy="382" r="3"/>
<circle cx="742" cy="389" r="3"/>
<circle cx="743" cy="386" r="3"/>
<circle cx="743" cy="395" r="3"/>
<circle cx="744" cy="373" r="3"/>
<circle cx="796" cy="327" r="3"/>
<circle cx="796" cy="355" r="3"/>
<circle cx="797" cy="303" r="3"/>
<circle cx="797" cy="315" r="3"/>
<circle cx="797" cy="321" r="3"/>
<circle cx="797" cy="336" r="3"/>
<circle cx="799" cy="364" r="3"/>
<circle cx="799" cy="370" r="3"/>
<circle cx="800" cy="346" r="3"/>
<circle cx="800" cy="358" r="3"/>
<circle cx="802" cy="327" r="3"/>
<circle cx="802" cy="339" r="3"/>
<circle cx="803" cy="349" r="3"/>
<circle cx="804" cy="306" r="3"/>
<circle cx="804" cy="309" r="3"/>
<circle cx="804" cy="321" r="3"/>
<circle cx="806" cy="318" r="3"/>
<circle cx="806" cy="330" r="3"/>
<circle cx="806" cy="333" r="3"/>
<circle cx="806" cy="367" r="3"/>
<circle cx="807" cy="370" r="3"/>
<circle cx="808" cy="339" r="3"/>
<circle cx="808" cy="355" r="3"/>
<circle cx="809" cy="287" r="3"/>
<circle cx="809" cy="309" r="3"/>
<circle cx="810" cy="358" r="3"/>
<circle cx="810" cy="376" r="3"/>
<circle cx="810" cy="392" r="3"/>
<circle cx="811" cy="333" r="3"/>
<circle cx="812" cy="343" r="3"/>
<circle cx="812" cy="370" r="3"/>
<circle cx="812" cy="373" r="3"/>
<circle cx="813" cy="355" r="3"/>
<circle cx="813" cy="364" r="3"/>
<circle cx="813" cy="386" r="3"/>
<circle cx="814" cy="376" r="3"/>
<circle cx="815" cy="358" r="3"/>
<circle cx="816" cy="373" r="3"/>
<circle cx="816" cy="389" r="3"/>
<circle cx="816" cy="395" r="3"/>
<circle cx="816" cy="398" r="3"/>
<circle cx="817" cy="336" r="3"/>
<circle cx="817" cy="343" r="3"/>
<circle cx="818" cy="324" r="3"/>
<circle cx="818" cy="330" r="3"/>
<circle cx="818" cy="355" r="3"/>
<circle cx="819" cy="349" r="3"/>
<circle cx="820" cy="358" r="3"/>
<circle cx="820" cy="367" r="3"/>
<circle cx="820" cy="379" r="3"/>
<circle cx="820" cy="401" r="3"/>
<circle cx="821" cy="309" r="3"/>
<circle cx="821" cy="429" r="3"/>
<circle cx="822" cy="349" r="3"/>
<circle cx="822" cy="367" r="3"/>
<circle cx="822" cy="389" r="3"/>
<circle cx="823" cy="321" r="3"/>
<circle cx="824" cy="361" r="3"/>
<circle cx="824" cy="373" r="3"/>
<circle cx="824" cy="404" r="3"/>
<circle cx="825" cy="401" r="3"/>
<circle cx="826" cy="346" r="3"/>
<circle cx="826" cy="367" r="3"/>
<circle cx="826" cy="395" r="3"/>
<circle cx="827" cy="382" r="3"/>
<circle cx="828" cy="392" r="3"/>
<circle cx="830" cy="382" r="3"/>
<circle cx="830" cy="398" r="3"/>
<circle cx="830" cy="404" r="3"/>
<circle cx="831" cy="324" r="3"/>
<circle cx="831" cy="389" r="3"/>
<circle cx="832" cy="303" r="3"/>
<circle cx="832" cy="361" r="3"/>
<circle cx="832" cy="373" r="3"/>
<circle cx="833" cy="349" r="3"/>
<circle cx="833" cy="355" r="3"/>
<circle cx="833" cy="379" r="3"/>
<circle cx="834" cy="376" r="3"/>
<circle cx="834" cy="398" r="3"/>
<circle cx="836" cy="389" r="3"/>
<circle cx="836" cy="392" r="3"/>
<circle cx="836" cy="401" r="3"/>
<circle cx="836" cy="407" r="3"/>
<circle cx="838" cy="373" r="3"/>
<circle cx="838" cy="382" r="3"/>
<circle cx="839" cy="306" r="3"/>
<circle cx="839" cy="315" r="3"/>
<circle cx="839" cy="321" r="3"/>
<circle cx="840" cy="364" r="3"/>
<circle cx="840" cy="389" r="3"/>
<circle cx="841" cy="352" r="3"/>
<circle cx="841" cy="404" r="3"/>
<circle cx="842" cy="349" r="3"/>
<circle cx="842" cy="370" r="3"/>
<circle cx="842" cy="398" r="3"/>
<circle cx="843" cy="376" r="3"/>
<circle cx="843" cy="382" r="3"/>
<circle cx="844" cy="364" r="3"/>
<circle cx="844" cy="410" r="3"/>
<circle cx="844" cy="416" r="3"/>
<circle cx="845" cy="389" r="3"/>
<circle cx="845" cy="395" r="3"/>
<circle cx="896" cy="321" r="3"/>
<circle cx="898" cy="300" r="3"/>
<circle cx="898" cy="306" r="3"/>
<circle cx="898" cy="312" r="3"/>
<circle cx="900" cy="293" r="3"/>
<circle cx="900" cy="315" r="3"/>
<circle cx="900" cy="324" r="3"/>
<circle cx="901" cy="339" r="3"/>
<circle cx="902" cy="306" r="3"/>
<circle cx="902" cy="330" r="3"/>
<circle cx="902" cy="343" r="3"/>
<circle cx="902" cy="355" r="3"/>
<circle cx="902" cy="358" r="3"/>
<circle cx="903" cy="296" r="3"/>
<circle cx="903" cy="346" r="3"/>
<circle cx="904" cy="321" r="3"/>
<circle cx="905" cy="309" r="3"/>
<circle cx="905" cy="318" r="3"/>
<circle cx="905" cy="333" r="3"/>
<circle cx="906" cy="306" r="3"/>
<circle cx="906" cy="324" r="3"/>
<circle cx="906" cy="339" r="3"/>
<circle cx="906" cy="349" r="3"/>
<circle cx="906" cy="367" r="3"/>
<circle cx="908" cy="300" r="3"/>
<circle cx="908" cy="330" r="3"/>
<circle cx="908" cy="343" r="3"/>
<circle cx="908" cy="386" r="3"/>
<circle cx="909" cy="296" r="3"/>
<circle cx="910" cy="315" r="3"/>
<circle cx="910" cy="327" r="3"/>
<circle cx="910" cy="333" r="3"/>
<circle cx="910" cy="361" r="3"/>
<circle cx="911" cy="349" r="3"/>
<circle cx="912" cy="303" r="3"/>
<circle cx="912" cy="321" r="3"/>
<circle cx="912" cy="364" r="3"/>
<circle cx="913" cy="333" r="3"/>
<circle cx="914" cy="312" r="3"/>
<circle cx="915" cy="306" r="3"/>
<circle cx="915" cy="327" r="3"/>
<circle cx="916" cy="324" r="3"/>
<circle cx="916" cy="339" r="3"/>
<circle cx="916" cy="346" r="3"/>
<circle cx="916" cy="355" r="3"/>
<circle cx="917" cy="333" r="3"/>
<circle cx="917" cy="376" r="3"/>
<circle cx="918" cy="370" r="3"/>
<circle cx="918" cy="373" r="3"/>
<circle cx="918" cy="379" r="3"/>
<circle cx="919" cy="290" r="3"/>
<circle cx="919" cy="364" r="3"/>
<circle cx="919" cy="382" r="3"/>
<circle cx="920" cy="318" r="3"/>
<circle cx="920" cy="358" r="3"/>
<circle cx="920" cy="376" r="3"/>
<circle cx="922" cy="290" r="3"/>
<circle cx="922" cy="343" r="3"/>
<circle cx="922" cy="361" r="3"/>
<circle cx="923" cy="349" r="3"/>
<circle cx="924" cy="364" r="3"/>
<circle cx="924" cy="373" r="3"/>
<circle cx="924" cy="379" r="3"/>
<circle cx="924" cy="395" r="3"/>
<circle cx="925" cy="386" r="3"/>
<circle cx="926" cy="321" r="3"/>
<circle cx="926" cy="352" r="3"/>
<circle cx="927" cy="370" r="3"/>
<circle cx="927" cy="373" r="3"/>
<circle cx="928" cy="343" r="3"/>
<circle cx="928" cy="361" r="3"/>
<circle cx="928" cy="373" r="3"/>
<circle cx="928" cy="410" r="3"/>
<circle cx="928" cy="413" r="3"/>
<circle cx="929" cy="379" r="3"/>
<circle cx="930" cy="364" r="3"/>
<circle cx="930" cy="398" r="3"/>
<circle cx="932" cy="392" r="3"/>
<circle cx="932" cy="401" r="3"/>
<circle cx="932" cy="416" r="3"/>
<circle cx="932" cy="419" r="3"/>
<circle cx="933" cy="404" r="3"/>
<circle cx="933" cy="410" r="3"/>
<circle cx="934" cy="321" r="3"/>
<circle cx="934" cy="355" r="3"/>
<circle cx="934" cy="376" r="3"/>
<circle cx="934" cy="389" r="3"/>
<circle cx="934" cy="395" r="3"/>
<circle cx="935" cy="312" r="3"/>
<circle cx="935" cy="343" r="3"/>
<circle cx="936" cy="367" r="3"/>
<circle cx="936" cy="373" r="3"/>
<circle cx="936" cy="379" r="3"/>
<circle cx="936" cy="382" r="3"/>
<circle cx="937" cy="352" r="3"/>
<circle cx="938" cy="370" r="3"/>
<circle cx="938" cy="398" r="3"/>
<circle cx="939" cy="413" r="3"/>
<circle cx="939" cy="422" r="3"/>
<circle cx="940" cy="376" r="3"/>
<circle cx="940" cy="389" r="3"/>
<circle cx="940" cy="407" r="3"/>
<circle cx="942" cy="379" r="3"/>
<circle cx="944" cy="376" r="3"/>
<circle cx="944" cy="404" r="3"/>
<circle cx="945" cy="373" r="3"/>
<circle cx="946" cy="379" r="3"/>
<circle cx="946" cy="386" r="3"/>
<circle cx="946" cy="395" r="3"/>
<circle cx="946" cy="401" r="3"/>
<circle cx="996" cy="336" r="3"/>
<circle cx="997" cy="352" r="3"/>
<circle cx="998" cy="315" r="3"/>
<circle cx="998" cy="346" r="3"/>
<circle cx="998" cy="370" r="3"/>
<circle cx="999" cy="327" r="3"/>
<circle cx="1000" cy="339" r="3"/>
<circle cx="1000" cy="358" r="3"/>
<circle cx="1001" cy="312" r="3"/>
<circle cx="1002" cy="321" r="3"/>
<circle cx="1002" cy="346" r="3"/>
<circle cx="1002" cy="352" r="3"/>
<circle cx="1002" cy="361" r="3"/>
<circle cx="1003" cy="364" r="3"/>
<circle cx="1004" cy="324" r="3"/>
<circle cx="1004" cy="336" r="3"/>
<circle cx="1004" cy="339" r="3"/>
<circle cx="1004" cy="355" r="3"/>
<circle cx="1005" cy="278" r="3"/>
<circle cx="1006" cy="312" r="3"/>
<circle cx="1007" cy="309" r="3"/>
<circle cx="1007" cy="321" r="3"/>
<circle cx="1007" cy="349" r="3"/>
<circle cx="1008" cy="336" r="3"/>
<circle cx="1008" cy="364" r="3"/>
<circle cx="1010" cy="349" r="3"/>
<circle cx="1010" cy="355" r="3"/>
<circle cx="1010" cy="373" r="3"/>
<circle cx="1010" cy="398" r="3"/>
<circle cx="1010" cy="407" r="3"/>
<circle cx="1011" cy="352" r="3"/>
<circle cx="1011" cy="392" r="3"/>
<circle cx="1012" cy="367" r="3"/>
<circle cx="1012" cy="382" r="3"/>
<circle cx="1013" cy="370" r="3"/>
<circle cx="1014" cy="379" r="3"/>
<circle cx="1014" cy="392" r="3"/>
<circle cx="1016" cy="352" r="3"/>
<circle cx="1017" cy="370" r="3"/>
<circle cx="1018" cy="355" r="3"/>
<circle cx="1018" cy="361" r="3"/>
<circle cx="1018" cy="382" r="3"/>
<circle cx="1018" cy="389" r="3"/>
<circle cx="1019" cy="401" r="3"/>
<circle cx="1020" cy="349" r="3"/>
<circle cx="1020" cy="376" r="3"/>
<circle cx="1021" cy="370" r="3"/>
<circle cx="1021" cy="395" r="3"/>
<circle cx="1021" cy="422" r="3"/>
<circle cx="1022" cy="358" r="3"/>
<circle cx="1022" cy="361" r="3"/>
<circle cx="1023" cy="373" r="3"/>
<circle cx="1023" cy="410" r="3"/>
<circle cx="1024" cy="401" r="3"/>
<circle cx="1024" cy="413" r="3"/>
<circle cx="1024" cy="416" r="3"/>
<circle cx="1026" cy="343" r="3"/>
<circle cx="1026" cy="382" r="3"/>
<circle cx="1026" cy="392" r="3"/>
<circle cx="1027" cy="339" r="3"/>
<circle cx="1027" cy="364" r="3"/>
<circle cx="1027" cy="386" r="3"/>
<circle cx="1028" cy="355" r="3"/>
<circle cx="1028" cy="361" r="3"/>
<circle cx="1029" cy="407" r="3"/>
<circle cx="1030" cy="370" r="3"/>
<circle cx="1030" cy="392" r="3"/>
<circle cx="1031" cy="364" r="3"/>
<circle cx="1031" cy="416" r="3"/>
<circle cx="1032" cy="395" r="3"/>
<circle cx="1032" cy="404" r="3"/>
<circle cx="1033" cy="401" r="3"/>
<circle cx="1034" cy="343" r="3"/>
<circle cx="1034" cy="355" r="3"/>
<circle cx="1034" cy="370" r="3"/>
<circle cx="1035" cy="422" r="3"/>
<circle cx="1035" cy="432" r="3"/>
<circle cx="1036" cy="364" r="3"/>
<circle cx="1036" cy="379" r="3"/>
<circle cx="1036" cy="398" r="3"/>
<circle cx="1036" cy="407" r="3"/>
<circle cx="1037" cy="386" r="3"/>
<circle cx="1038" cy="392" r="3"/>
<circle cx="1038" cy="419" r="3"/>
<circle cx="1039" cy="413" r="3"/>
<circle cx="1040" cy="382" r="3"/>
<circle cx="1040" cy="404" r="3"/>
<circle cx="1042" cy="398" r="3"/>
<circle cx="1042" cy="407" r="3"/>
<circle cx="1043" cy="410" r="3"/>
<circle cx="1044" cy="382" r="3"/>
<circle cx="1044" cy="413" r="3"/>
<circle cx="1044" cy="416" r="3"/>
<circle cx="1046" cy="404" r="3"/>
<circle cx="1047" cy="392" r="3"/>
<circle cx="1048" cy="413" r="3"/>
<circle cx="1049" cy="386" r="3"/>
<circle cx="1049" cy="398" r="3"/>
<circle cx="1049" cy="407" r="3"/>
<circle cx="1100" cy="318" r="3"/>
<circle cx="1100" cy="321" r="3"/>
<circle cx="1100" cy="333" r="3"/>
<circle cx="1101" cy="300" r="3"/>
<circle cx="1102" cy="312" r="3"/>
<circle cx="1102" cy="330" r="3"/>
<circle cx="1103" cy="306" r="3"/>
<circle cx="1104" cy="281" r="3"/>
<circle cx="1104" cy="293" r="3"/>
<circle cx="1104" cy="315" r="3"/>
<circle cx="1104" cy="346" r="3"/>
<circle cx="1105" cy="321" r="3"/>
<circle cx="1107" cy="303" r="3"/>
<circle cx="1107" cy="309" r="3"/>
<circle cx="1108" cy="324" r="3"/>
<circle cx="1108" cy="330" r="3"/>
<circle cx="1108" cy="349" r="3"/>
<circle cx="1109" cy="312" r="3"/>
<circle cx="1109" cy="315" r="3"/>
<circle cx="1110" cy="318" r="3"/>
<circle cx="1110" cy="321" r="3"/>
<circle cx="1110" cy="336" r="3"/>
<circle cx="1110" cy="355" r="3"/>
<circle cx="1110" cy="376" r="3"/>
<circle cx="1111" cy="346" r="3"/>
<circle cx="1111" cy="370" r="3"/>
<circle cx="1112" cy="327" r="3"/>
<circle cx="1112" cy="339" r="3"/>
<circle cx="1112" cy="361" r="3"/>
<circle cx="1114" cy="349" r="3"/>
<circle cx="1114" cy="376" r="3"/>
<circle cx="1114" cy="382" r="3"/>
<circle cx="1114" cy="392" r="3"/>
<circle cx="1116" cy="321" r="3"/>
<circle cx="1116" cy="330" r="3"/>
<circle cx="1116" cy="352" r="3"/>
<circle cx="1117" cy="324" r="3"/>
<circle cx="1117" cy="336" r="3"/>
<circle cx="1118" cy="339" r="3"/>
<circle cx="1118" cy="358" r="3"/>
<circle cx="1118" cy="364" r="3"/>
<circle cx="1119" cy="373" r="3"/>
<circle cx="1120" cy="346" r="3"/>
<circle cx="1120" cy="361" r="3"/>
<circle cx="1120" cy="370" r="3"/>
<circle cx="1120" cy="382" r="3"/>
<circle cx="1120" cy="398" r="3"/>
<circle cx="1121" cy="352" r="3"/>
<circle cx="1122" cy="290" r="3"/>
<circle cx="1122" cy="336" r="3"/>
<circle cx="1122" cy="376" r="3"/>
<circle cx="1122" cy="389" r="3"/>
<circle cx="1123" cy="355" r="3"/>
<circle cx="1124" cy="364" r="3"/>
<circle cx="1124" cy="370" r="3"/>
<circle cx="1124" cy="386" r="3"/>
<circle cx="1125" cy="346" r="3"/>
<circle cx="1126" cy="376" r="3"/>
<circle cx="1126" cy="395" r="3"/>
<circle cx="1128" cy="361" r="3"/>
<circle cx="1128" cy="382" r="3"/>
<circle cx="1129" cy="392" r="3"/>
<circle cx="1130" cy="349" r="3"/>
<circle cx="1130" cy="370" r="3"/>
<circle cx="1130" cy="401" r="3"/>
<circle cx="1131" cy="327" r="3"/>
<circle cx="1133" cy="379" r="3"/>
<circle cx="1134" cy="349" r="3"/>
<circle cx="1135" cy="352" r="3"/>
<circle cx="1135" cy="358" r="3"/>
<circle cx="1135" cy="373" r="3"/>
<circle cx="1135" cy="389" r="3"/>
<circle cx="1136" cy="364" r="3"/>
<circle cx="1136" cy="413" r="3"/>
<circle cx="1136" cy="398" r="3"/>
<circle cx="1137" cy="404" r="3"/>
<circle cx="1139" cy="355" r="3"/>
<circle cx="1139" cy="398" r="3"/>
<circle cx="1140" cy="339" r="3"/>
<circle cx="1140" cy="376" r="3"/>
<circle cx="1141" cy="395" r="3"/>
<circle cx="1142" cy="355" r="3"/>
<circle cx="1142" cy="364" r="3"/>
<circle cx="1142" cy="398" r="3"/>
<circle cx="1144" cy="333" r="3"/>
<circle cx="1144" cy="379" r="3"/>
<circle cx="1145" cy="386" r="3"/>
<circle cx="1146" cy="343" r="3"/>
<circle cx="1146" cy="367" r="3"/>
<circle cx="1146" cy="395" r="3"/>
<circle cx="1146" cy="407" r="3"/>
<circle cx="1147" cy="339" r="3"/>
<circle cx="1148" cy="355" r="3"/>
<circle cx="1148" cy="376" r="3"/>
<circle cx="1148" cy="392" r="3"/>
<circle cx="1149" cy="361" r="3"/>
<circle cx="1149" cy="404" r="3"/>
</g>
<path d="M90 254H1160" fill="none" stroke="#007a00" stroke-width="2" stroke-dasharray="6,2"/>
<text x="584.2" y="25" text-anchor="middle" font-family="'Liberation Sans', 'DejaVu Sans', sans-serif" font-size="19.6" fill="#222" style="word-spacing:2.4px" textLength="194.8" lengthAdjust="spacingAndGlyphs">WELSHPOOL OZONE</text>
<text x="584.5" y="47" text-anchor="middle" font-size="12.3" fill="#666" style="word-spacing:0.8px" textLength="240" lengthAdjust="spacingAndGlyphs">Click and drag in the plot area to zoom in</text>
<text transform="translate(32.8,255.5) rotate(-90)" text-anchor="middle" font-size="20" fill="#222" style="word-spacing:2px" textLength="196" lengthAdjust="spacingAndGlyphs">Measurements (ppb)</text>
<g class="yl">
<text x="74.6" y="69">125</text>
<text x="74.6" y="146">100</text>
<text x="74.6" y="222">75</text>
<text x="74.6" y="299">50</text>
<text x="74.6" y="375">25</text>
<text x="74.6" y="452">0</text>
</g>
<g class="xl">
<text transform="translate(157.4,460.2) rotate(70)" textLength="88" lengthAdjust="spacing">1996-01-01</text>
<text transform="translate(258.9,460.2) rotate(70)" textLength="88" lengthAdjust="spacing">1997-01-01</text>
<text transform="translate(360.1,460.2) rotate(70)" textLength="88" lengthAdjust="spacing">1998-01-01</text>
<text transform="translate(461.3,460.2) rotate(70)" textLength="88" lengthAdjust="spacing">1999-01-01</text>
<text transform="translate(562.5,460.2) rotate(70)" textLength="88" lengthAdjust="spacing">2000-01-01</text>
<text transform="translate(664.0,460.2) rotate(70)" textLength="88" lengthAdjust="spacing">2001-01-01</text>
<text transform="translate(765.3,460.2) rotate(70)" textLength="88" lengthAdjust="spacing">2002-01-01</text>
<text transform="translate(866.5,460.2) rotate(70)" textLength="88" lengthAdjust="spacing">2003-01-01</text>
<text transform="translate(967.7,460.2) rotate(70)" textLength="88" lengthAdjust="spacing">2004-01-01</text>
<text transform="translate(1069.2,460.2) rotate(70)" textLength="88" lengthAdjust="spacing">2005-01-01</text>
</g>
<circle cx="513" cy="572" r="3" fill="#3c8d0b" stroke="#80b906" stroke-width="2"/>
<text x="526.6" y="576" font-family="'Liberation Sans', 'DejaVu Sans', sans-serif" font-size="12.6" font-weight="bold" fill="#2a2a2a" style="word-spacing:0.8px" textLength="138.6" lengthAdjust="spacingAndGlyphs">CAMPOBELLO ISLAND</text>
<text x="1159.8" y="595" text-anchor="end" font-size="9.5" fill="#999" textLength="74.4" lengthAdjust="spacingAndGlyphs">Highcharts.com</text>
</svg>
</body></html>
